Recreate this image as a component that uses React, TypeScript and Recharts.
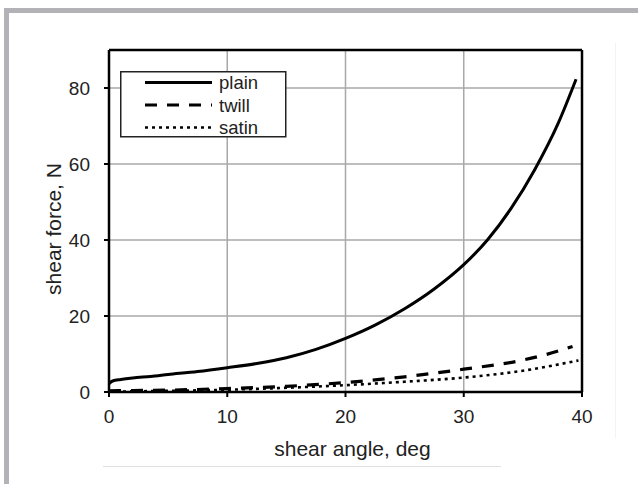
import React from 'react';
import { LineChart, Line, XAxis, YAxis, CartesianGrid, ReferenceLine, Label } from 'recharts';

const plainX = [0, 0.3, 1, 2, 3.5, 5, 7.5, 10, 12.5, 15, 17.5, 20, 22.5, 25, 27.5, 30, 32, 34, 36, 38, 39.5];
const plainY = [2.2, 2.9, 3.3, 3.7, 4.1, 4.6, 5.4, 6.4, 7.5, 9.0, 11.2, 14.1, 17.6, 21.9, 27.1, 33.5, 40.0, 48.3, 58.5, 70.8, 82.3];
const twillX = [0, 2, 5, 10, 15, 20, 25, 30, 35, 37, 39.2];
const twillY = [0.3, 0.4, 0.5, 0.9, 1.5, 2.5, 4, 6, 8.4, 9.9, 12];
const satinX = [0, 5, 10, 15, 20, 25, 30, 35, 39.7];
const satinY = [0.1, 0.3, 0.6, 1.1, 1.8, 2.7, 3.8, 5.6, 8.3];
const xTicks = [0, 10, 20, 30, 40];
const yTicks = [0, 20, 40, 60, 80];
const seriesNames = ['plain', 'twill', 'satin'];
const xLabel = 'shear angle, deg';
const yLabel = 'shear force, N';

const toData = (xs: number[], ys: number[]) => xs.map((x, i) => ({ x, y: ys[i] }));
const plainData = toData(plainX, plainY);
const twillData = toData(twillX, twillY);
const satinData = toData(satinX, satinY);

const FONT = '"Liberation Sans", Arial, sans-serif';
const dashes = [undefined, '12 10', '3 4'];

export default function App() {
  return (
    <div style={{ position: 'absolute', left: 0, top: 0, width: 638, height: 484, background: '#fff', fontFamily: FONT }}>
      <div style={{ position: 'absolute', left: 4, top: 8, width: 634, height: 5, background: '#b3b3b7' }} />
      <div style={{ position: 'absolute', left: 4, top: 8, width: 5, height: 476, background: '#b3b3b7' }} />
      <div style={{ position: 'absolute', left: 103, top: 466, width: 398, height: 1, background: '#e2e2e2' }} />
      <div style={{ position: 'absolute', left: 615, top: 43, width: 1, height: 395, background: '#f3f3f3' }} />
      <div style={{ position: 'absolute', left: 0, top: 0 }}>
        <LineChart width={638} height={484} margin={{ top: 50, right: 56, bottom: 32, left: 49 }}>
          <CartesianGrid stroke="#a8a8a8" strokeWidth={1.5} verticalValues={xTicks} horizontalValues={yTicks} />
          <XAxis
            dataKey="x"
            type="number"
            domain={[0, 40]}
            ticks={xTicks}
            height={60}
            allowDataOverflow
            axisLine={{ stroke: '#000', strokeWidth: 2.5 }}
            tickLine={{ stroke: '#000', strokeWidth: 2 }}
            tickSize={5}
            tickMargin={13}
            tick={{ fill: '#222', fontSize: 19, fontFamily: FONT }}
          >
            <Label
              content={(props: any) => {
                const vb = props.viewBox || { x: 109, y: 392, width: 473 };
                return (
                  <text x={vb.x + vb.width / 2 + 7} y={vb.y + 64} textAnchor="middle" fill="#222" fontSize={21} fontFamily={FONT}>
                    {xLabel}
                  </text>
                );
              }}
            />
          </XAxis>
          <YAxis
            type="number"
            domain={[0, 90]}
            ticks={yTicks}
            width={60}
            allowDataOverflow
            axisLine={{ stroke: '#000', strokeWidth: 2.5 }}
            tickLine={{ stroke: '#000', strokeWidth: 2 }}
            tickSize={5}
            tickMargin={14}
            tick={{ fill: '#222', fontSize: 19, fontFamily: FONT }}
          >
            <Label
              content={(props: any) => {
                const vb = props.viewBox || { x: 49, y: 50, height: 342 };
                const cx = vb.x + 4;
                const cy = vb.y + vb.height / 2 + 8;
                return (
                  <text x={cx} y={cy} transform={`rotate(-90 ${cx} ${cy})`} textAnchor="middle" dominantBaseline="central" fill="#222" fontSize={21} fontFamily={FONT}>
                    {yLabel}
                  </text>
                );
              }}
            />
          </YAxis>
          <ReferenceLine y={90} stroke="#000" strokeWidth={2.5} ifOverflow="extendDomain" />
          <ReferenceLine x={40} stroke="#000" strokeWidth={2.5} />
          <Line data={plainData} dataKey="y" type="monotone" stroke="#000" strokeWidth={3} dot={false} isAnimationActive={false} name={seriesNames[0]} />
          <Line data={twillData} dataKey="y" type="monotone" stroke="#000" strokeWidth={3.2} strokeDasharray={dashes[1]} dot={false} isAnimationActive={false} name={seriesNames[1]} />
          <Line data={satinData} dataKey="y" type="monotone" stroke="#000" strokeWidth={2.6} strokeDasharray={dashes[2]} dot={false} isAnimationActive={false} name={seriesNames[2]} />
        </LineChart>
      </div>
      <svg style={{ position: 'absolute', left: 120, top: 71 }} width={167} height={67}>
        <rect x={0.75} y={0.75} width={165} height={65} fill="#fff" stroke="#222" strokeWidth={1.5} />
        {seriesNames.map((n, i) => {
          const y = 11.5 + i * 22.5;
          return (
            <g key={n}>
              <line x1={25} x2={92} y1={y} y2={y} stroke="#000" strokeWidth={i === 2 ? 2.6 : 3.2} strokeDasharray={dashes[i]} />
              <text x={99} y={y} dominantBaseline="central" fill="#222" fontSize={18.5} fontFamily={FONT}>{n}</text>
            </g>
          );
        })}
      </svg>
    </div>
  );
}
